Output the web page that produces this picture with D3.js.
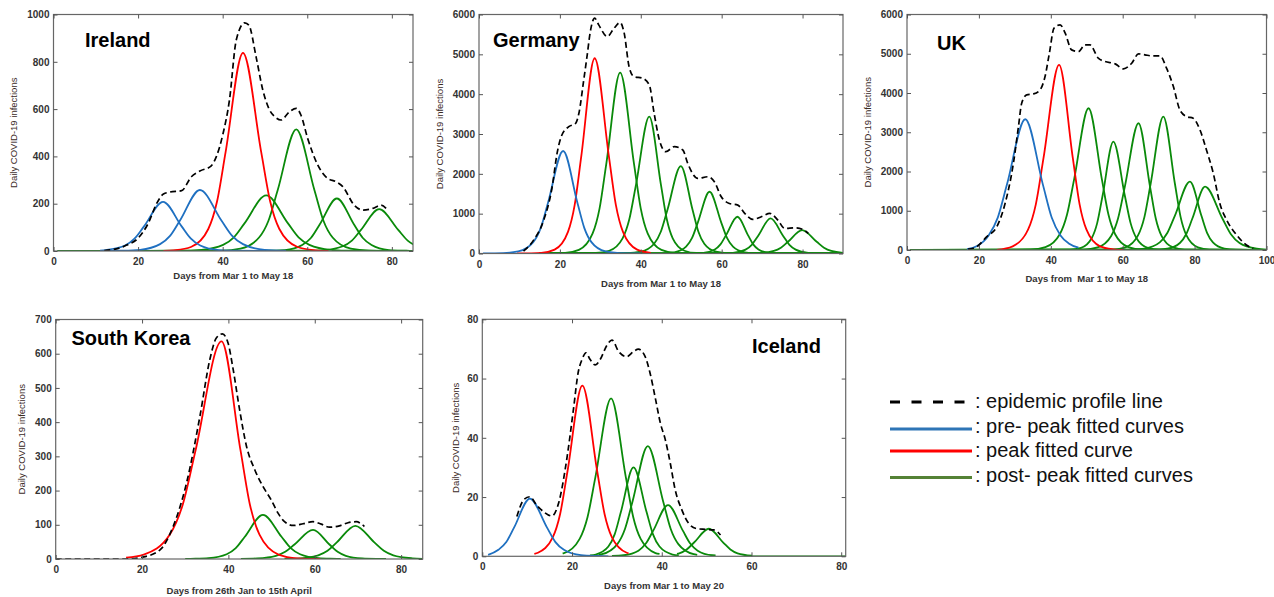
<!DOCTYPE html>
<html>
<head>
<meta charset="utf-8">
<script src="https://cdn.jsdelivr.net/npm/d3@7"></script>
<style>
  html, body { margin: 0; padding: 0; background: #fff; }
  svg { display: block; }
</style>
</head>
<body>
<svg id="chart" width="1274" height="597"></svg>
<script>
// ---------------- DATA ----------------
// Each series is a list of [day, daily infections]

// Ireland
const irelandProfile = [[12,2],[14,6],[15.5,12],[17.3,25],[20,54],[22.4,117],[24.4,201],[26,241],[27.5,249],[30.3,255],[32.6,314],[34.6,338],[37.3,360],[38.5,399],[40,490],[41.6,638],[43.2,891],[45.2,965],[46.2,955],[47.9,821],[49.5,680],[51.1,596],[52.3,568],[53.8,554],[55.8,589],[57.4,603],[58.5,575],[60.1,476],[62.5,363],[64.8,307],[66.8,293],[68.4,272],[71.1,194],[73.1,173],[75.5,180],[77.4,194],[79,173]];
const irelandPre = [
  [[11,1],[12.4,4],[16.9,23],[19.15,52],[21.4,104],[25.9,208],[30.3,104],[32.5,52],[34.7,23],[39.1,4],[43.5,1],[50,0]],
  [[12,0],[15.8,1],[20.5,5],[25.2,29],[27.55,64],[29.9,129],[34.6,258],[39.7,129],[42.25,64],[44.8,29],[49.9,5],[55,1]]
];
const irelandPeak = [[26,0],[28.4,3],[32.5,17],[36.6,93],[38.65,208],[40.7,419],[44.8,838],[49.1,419],[51.25,208],[53.4,93],[57.7,17],[62,3],[65,0]];
const irelandPost = [
  [[1,0],[29.9,1],[35,5],[40.1,26],[42.65,58],[45.2,118],[50.3,235],[55.4,118],[57.95,58],[60.5,26],[65.6,5],[70.7,1],[85,0]],
  [[1,0],[39.8,2],[44.2,10],[48.6,57],[50.8,127],[53,257],[57.4,514],[61.7,257],[63.85,127],[66,57],[70.3,10],[74.6,2],[85,0]],
  [[1,0],[50.6,1],[54.7,4],[58.8,25],[60.85,55],[62.9,111],[67,222],[71.1,111],[73.15,55],[75.2,25],[79.3,4],[83.4,1],[85,0]],
  [[1,0],[59.8,1],[64.1,4],[68.4,20],[70.55,44],[72.7,89],[77,177],[81.5,89],[83.75,44],[86,20],[90.5,4]]
];
const irelandXTicks = [0,20,40,60,80];
const irelandYTicks = [0,200,400,600,800,1000];

// Germany
const germanyProfile = [[11,60],[13.5,335],[16,838],[18.1,1676],[19.3,2514],[20.5,2975],[22.2,3184],[23.9,3268],[24.7,3520],[25.9,4358],[26.7,4944],[27.6,5615],[28.6,5908],[29.6,5740],[31.7,5447],[33.4,5657],[34.9,5799],[35.9,5531],[37.1,4693],[38.3,4441],[40.4,4400],[42.1,4232],[43.3,3520],[44.6,2849],[46.2,2556],[48.3,2682],[50.4,2598],[51.6,2263],[54.1,1886],[56.6,1927],[58.2,1802],[59.9,1425],[61.9,1257],[64,1215],[65.7,1006],[67.7,855],[69.8,922],[71.9,1006],[73.9,838],[75.6,628],[78.1,645],[80.4,587],[81.4,503]];
const germanyPre = [
  [[1,0],[6,9],[9.7,51],[13.4,286],[15.25,638],[17.1,1287],[20.8,2573],[24.3,1287],[26.05,638],[27.8,286],[31.3,51],[34.8,9],[40,0]]
];
const germanyPeak = [[9.4,0],[15.4,17],[18.7,98],[22,544],[23.65,1216],[25.3,2451],[28.6,4902],[32.1,2451],[33.85,1216],[35.6,544],[39.1,98],[42.5,17]];
const germanyPost = [
  [[15,0],[21.3,16],[24.7,91],[28.1,504],[29.8,1126],[31.5,2271],[34.9,4542],[38.3,2271],[40,1126],[41.7,504],[45.1,91],[48.5,16],[90,0]],
  [[15,0],[28.9,12],[32.2,69],[35.5,381],[37.15,852],[38.8,1718],[42.1,3436],[45,1718],[46.45,852],[47.9,381],[50.8,69],[53.7,12],[90,0]],
  [[15,0],[36.7,8],[40,44],[43.3,244],[44.95,545],[46.6,1098],[49.9,2196],[52.8,1098],[54.25,545],[55.7,244],[58.6,44],[61.5,8],[90,0]],
  [[15,0],[45.4,5],[48.3,31],[51.2,172],[52.65,384],[54.1,775],[57,1550],[59.9,775],[61.35,384],[62.8,172],[65.7,31],[68.6,5],[90,0]],
  [[15,0],[52.7,3],[55.5,18],[58.3,102],[59.7,229],[61.1,461],[63.9,922],[66.5,461],[67.8,229],[69.1,102],[71.7,18],[74.3,3],[90,0]],
  [[15,0],[59.7,3],[62.8,18],[65.9,98],[67.45,218],[69,440],[72.1,880],[75.2,440],[76.75,218],[78.3,98],[81.4,18],[84.5,3],[90,0]],
  [[15,0],[65.9,2],[69.4,12],[72.9,65],[74.65,146],[76.4,294],[79.9,587],[83.5,294],[85.3,146],[87.1,65],[90.7,12]]
];
const germanyXTicks = [0,20,40,60,80];
const germanyYTicks = [0,1000,2000,3000,4000,5000,6000];

// UK
const ukProfile = [[17,20],[19.4,85],[22.2,340],[25,595],[27.3,1190],[29.6,2210],[31,3145],[31.9,3739],[33.3,3952],[35.2,3977],[37,4079],[38.4,4419],[39.6,5014],[40.9,5652],[42.6,5737],[44,5524],[45.8,5099],[47.7,5057],[49.5,5227],[50.9,5227],[53.2,4887],[55.1,4802],[57.9,4742],[60.2,4615],[62.5,4759],[64.4,4997],[66.2,4972],[68.1,4946],[70.4,4946],[72.2,4632],[74.1,4164],[75.9,3569],[77.8,3399],[79.6,3357],[81.5,3059],[83.3,2549],[85.2,1955],[87,1190],[88.9,765],[91.7,382],[94.4,127],[96.3,42]];
const ukPre = [
  [[16.7,20],[19.5,100],[22.7,370],[25.25,826],[27.8,1666],[32.9,3331],[37.8,1666],[40.25,826],[42.7,370],[45,166],[47.7,60]]
];
const ukPeak = [[25,0],[29.4,94],[33.7,524],[35.85,1170],[38,2359],[42.3,4717],[46.1,2359],[48,1170],[49.9,524],[53.7,94],[57.5,17],[60.2,0]];
const ukPost = [
  [[1,0],[34.5,13],[38.5,72],[42.5,401],[44.5,896],[46.5,1806],[50.5,3612],[54.2,1806],[56.05,896],[57.9,401],[61.6,72],[65.3,13],[100,0]],
  [[1,0],[45.4,10],[48.4,55],[51.4,307],[52.9,685],[54.4,1381],[57.4,2762],[60.6,1381],[62.2,685],[63.8,307],[67,55],[70.2,10],[100,0]],
  [[1,0],[49.2,11],[53,65],[56.8,358],[58.7,801],[60.6,1615],[64.4,3229],[67.6,1615],[69.2,801],[70.8,358],[74,65],[77.2,11],[100,0]],
  [[1,0],[57.3,12],[60.8,68],[64.3,377],[66.05,843],[67.8,1700],[71.3,3399],[74.5,1700],[76.1,843],[77.7,377],[80.9,68],[84.1,12],[100,0]],
  [[1,0],[61.9,6],[66.1,35],[70.3,193],[72.4,432],[74.5,871],[78.7,1742],[81.9,871],[83.5,432],[85.1,193],[88.3,35],[91.5,6],[100,0]],
  [[1,0],[68.9,6],[72.4,32],[75.9,179],[77.65,401],[79.4,808],[82.9,1615],[87.7,808],[90.1,401],[92.5,179],[97.3,32],[100,12]]
];
const ukXTicks = [0,20,40,60,80,100];
const ukYTicks = [0,1000,2000,3000,4000,5000,6000];

// South Korea
const koreaProfile = [[0,0],[16.3,0],[20,5],[24.1,26],[27.2,95],[30.3,222],[33.4,417],[35.7,583],[37.2,646],[38.6,658],[39.9,632],[41.1,554],[42.6,436],[44.2,329],[46.1,261],[48,212],[49.9,173],[51.5,134],[53,109],[55,98],[57.3,103],[59.6,109],[61.5,102],[63.4,93],[65.7,97],[67.7,106],[69.6,109],[71.5,95]];
const koreaPre = [];
const koreaPeak = [[16.3,4],[20.4,13],[26.4,71],[29.4,158],[32.4,318],[38.4,636],[42.8,318],[45,158],[47.2,71],[51.6,13],[56,2],[61.3,0]];
const koreaPost = [
  [[30,0],[31.2,0.5],[35.4,2.6],[39.6,14],[41.7,32],[43.8,65],[48,129],[52.3,65],[54.45,32],[56.6,14],[60.9,2.6],[65.2,0.5],[66,0]],
  [[42.9,0.3],[46.7,1.7],[51,9.4],[53.15,21],[55.3,42.5],[59.6,85],[63.4,42.5],[65.3,21],[67.2,9.4],[71,1.7],[74.8,0.3],[76.5,0]],
  [[53,0],[56.5,1.9],[60.8,10.8],[62.95,24],[65.1,48.5],[69.4,97],[73.8,48.5],[76,24],[78.2,10.8],[82.6,1.9],[85,0.5]]
];
const koreaXTicks = [0,20,40,60,80];
const koreaYTicks = [0,100,200,300,400,500,600,700];

// Iceland
const icelandProfile = [[7.7,13.4],[9.2,19],[10.6,20.1],[12.1,17.3],[13.6,15.1],[15.5,13.6],[17,17.9],[18.8,32.5],[20.3,49.4],[21.4,62.3],[22.2,66.3],[23.1,68.7],[24,66.5],[25.2,64.6],[26.3,66.5],[27.8,71.3],[28.9,73],[30.4,69.1],[32.2,67.4],[33.7,69.1],[34.8,69.9],[36.3,67.4],[37.4,61.8],[38.5,53.9],[39.7,44.9],[40.8,39.3],[41.9,31.4],[43,22.4],[44.5,15.6],[46,11.1],[47.9,9.3],[49.7,9.1],[51.6,8.9],[53.1,7.2]];
const icelandPre = [
  [[1.3,0.5],[3.6,2.2],[5.35,4.8],[7.1,9.75],[10.6,19.5],[14.4,9.75],[16.3,4.8],[18.2,2.2],[22,0.4],[25.8,0.1],[28.1,0]]
];
const icelandPeak = [[11.6,0.8],[12.4,1.2],[15.7,6.4],[17.35,14.3],[19,28.8],[22.3,57.6],[25.6,28.8],[27.25,14.3],[28.9,6.4],[32.2,1.2],[32.6,1]];
const icelandPost = [
  [[17.9,1],[18.2,1.1],[21.7,5.9],[23.45,13.2],[25.2,26.65],[28.7,53.3],[32,26.65],[33.65,13.2],[35.3,5.9],[38.6,1.1],[39.5,0.8]],
  [[24,0.3],[25.3,0.6],[28.1,3.3],[29.5,7.4],[30.9,15],[33.7,30],[36.6,15],[38.05,7.4],[39.5,3.3],[42.4,0.6],[43.8,0.3]],
  [[25.9,0.5],[26.7,0.7],[30.1,4.1],[31.8,9.2],[33.5,18.6],[36.9,37.2],[40.3,18.6],[42,9.2],[43.7,4.1],[47.1,0.7],[47.9,0.5]],
  [[28.9,0.1],[31.5,0.35],[34.8,1.9],[36.45,4.3],[38.1,8.65],[41.4,17.3],[44.7,8.65],[46.35,4.3],[48,1.9],[51.3,0.35],[52,0.3]],
  [[43.4,0.8],[43.9,1],[45.55,2.3],[47.2,4.65],[50.5,9.3],[53.7,4.65],[55.3,2.3],[56.9,1],[60.1,0.2]],
  [[58.3,0],[81,0]]
];
const icelandXTicks = [0,20,40,60,80];
const icelandYTicks = [0,20,40,60,80];

const legendLabels = [": epidemic profile line", ": pre- peak fitted curves", ": peak fitted curve", ": post- peak fitted curves"];

// ---------------- LAYOUT ----------------
const panels = [
  { name: "Ireland", profile: irelandProfile, pre: irelandPre, peak: irelandPeak, post: irelandPost,
    xTicks: irelandXTicks, yTicks: irelandYTicks, xMax: 85, yMax: 1000,
    left: 53.5, right: 413, top: 14.5, bottom: 251,
    titleX: 85, titleY: 46.5, yTitleX: 17, xTitle: "Days from Mar 1 to May 18", xTitleY: 279 },
  { name: "Germany", profile: germanyProfile, pre: germanyPre, peak: germanyPeak, post: germanyPost,
    xTicks: germanyXTicks, yTicks: germanyYTicks, xMax: 90, yMax: 6000,
    left: 479, right: 843, top: 14.5, bottom: 253.5,
    titleX: 493, titleY: 46.5, yTitleX: 443, xTitle: "Days from Mar 1 to May 18", xTitleY: 286.5 },
  { name: "UK", profile: ukProfile, pre: ukPre, peak: ukPeak, post: ukPost,
    xTicks: ukXTicks, yTicks: ukYTicks, xMax: 100, yMax: 6000,
    left: 907, right: 1266.5, top: 14.5, bottom: 250,
    titleX: 937, titleY: 50, yTitleX: 871, xTitle: "Days from  Mar 1 to May 18", xTitleY: 281.5 },
  { name: "South Korea", profile: koreaProfile, pre: koreaPre, peak: koreaPeak, post: koreaPost,
    xTicks: koreaXTicks, yTicks: koreaYTicks, xMax: 85, yMax: 700,
    left: 55.7, right: 422.7, top: 319.5, bottom: 559,
    titleX: 71.5, titleY: 345, yTitleX: 24.5, xTitle: "Days from 26th Jan to 15th April", xTitleY: 593.5 },
  { name: "Iceland", profile: icelandProfile, pre: icelandPre, peak: icelandPeak, post: icelandPost,
    xTicks: icelandXTicks, yTicks: icelandYTicks, xMax: 81, yMax: 80,
    left: 482.3, right: 845.7, top: 319.3, bottom: 556.3,
    titleX: 752, titleY: 352.5, yTitleX: 458.5, xTitle: "Days from Mar 1 to May 20", xTitleY: 589 }
];

const COLORS = { pre: "#1f70c1", peak: "#ff0000", post: "#0a8a0a", profile: "#000000" };
const LEGEND_COLORS = ["#000000", "#2e75b6", "#ff0000", "#548235"];
const FONT = "'Liberation Sans', Arial, Helvetica, sans-serif";
const fmt = d3.format("d");

const svg = d3.select("#chart");

panels.forEach((p, i) => {
  const x = d3.scaleLinear().domain([0, p.xMax]).range([p.left, p.right]);
  const y = d3.scaleLinear().domain([0, p.yMax]).range([p.bottom, p.top]);
  const g = svg.append("g");

  const clipId = "clip" + i;
  svg.append("clipPath").attr("id", clipId)
    .append("rect").attr("x", p.left).attr("y", p.top - 2)
    .attr("width", p.right - p.left).attr("height", p.bottom - p.top + 2);

  const line = d3.line().x(d => x(d[0])).y(d => y(d[1])).curve(d3.curveMonotoneX);
  const plot = g.append("g").attr("clip-path", `url(#${clipId})`);

  plot.selectAll("path.post").data(p.post).enter().append("path")
    .attr("class", "post").attr("d", line)
    .attr("fill", "none").attr("stroke", COLORS.post).attr("stroke-width", 1.8);
  plot.append("path").datum(p.peak).attr("d", line)
    .attr("fill", "none").attr("stroke", COLORS.peak).attr("stroke-width", 1.8);
  plot.selectAll("path.pre").data(p.pre).enter().append("path")
    .attr("class", "pre").attr("d", line)
    .attr("fill", "none").attr("stroke", COLORS.pre).attr("stroke-width", 1.8);
  plot.append("path").datum(p.profile).attr("d", line)
    .attr("fill", "none").attr("stroke", COLORS.profile).attr("stroke-width", 1.7)
    .attr("stroke-dasharray", "6,3.5");

  // frame
  g.append("rect").attr("x", p.left).attr("y", p.top)
    .attr("width", p.right - p.left).attr("height", p.bottom - p.top)
    .attr("fill", "none").attr("stroke", "#666").attr("stroke-width", 1.2);

  // axes (ticks point inward)
  const axB = g.append("g").attr("transform", `translate(0,${p.bottom})`)
    .call(d3.axisBottom(x).tickValues(p.xTicks).tickFormat(fmt).tickSizeInner(-4).tickSizeOuter(0).tickPadding(7));
  const axL = g.append("g").attr("transform", `translate(${p.left},0)`)
    .call(d3.axisLeft(y).tickValues(p.yTicks).tickFormat(fmt).tickSizeInner(-4).tickSizeOuter(0).tickPadding(4));
  const axT = g.append("g").attr("transform", `translate(0,${p.top})`)
    .call(d3.axisTop(x).tickValues(p.xTicks).tickSizeInner(-4).tickSizeOuter(0).tickFormat(""));
  const axR = g.append("g").attr("transform", `translate(${p.right},0)`)
    .call(d3.axisRight(y).tickValues(p.yTicks).tickSizeInner(-4).tickSizeOuter(0).tickFormat(""));
  [axB, axL, axT, axR].forEach(a => {
    a.select(".domain").remove();
    a.selectAll(".tick line").attr("stroke", "#555").attr("stroke-width", 1);
    a.selectAll(".tick text").attr("fill", "#333").attr("font-family", FONT)
      .attr("font-size", 10).attr("font-weight", "bold");
  });

  // titles
  g.append("text").attr("x", p.titleX).attr("y", p.titleY)
    .attr("font-family", FONT).attr("font-size", 20).attr("font-weight", "bold")
    .attr("fill", "#000").text(p.name);
  g.append("text").attr("x", (p.left + p.right) / 2).attr("y", p.xTitleY)
    .attr("text-anchor", "middle").attr("font-family", FONT).attr("font-size", 9.5)
    .attr("font-weight", "bold").attr("fill", "#333").style("white-space", "pre").text(p.xTitle);
  g.append("text")
    .attr("transform", `translate(${p.yTitleX},${(p.top + p.bottom) / 2}) rotate(-90)`)
    .attr("text-anchor", "middle").attr("font-family", FONT).attr("font-size", 9.5)
    .attr("fill", "#3a2a1f").text("Daily COVID-19 infections");
});

// ---------------- LEGEND ----------------
const leg = svg.append("g");
const legLineY = [402, 429, 451, 477.5];
const legTextY = [408, 433, 457, 482];
legendLabels.forEach((lab, i) => {
  const ln = leg.append("line").attr("x1", 890).attr("x2", i === 0 ? 966 : 972)
    .attr("y1", legLineY[i]).attr("y2", legLineY[i])
    .attr("stroke", LEGEND_COLORS[i]).attr("stroke-width", 3);
  if (i === 0) ln.attr("stroke-dasharray", "10,11.5");
  leg.append("text").attr("x", 975).attr("y", legTextY[i])
    .attr("font-family", FONT).attr("font-size", 20).attr("fill", "#111").text(lab);
});
</script>
</body>
</html>
